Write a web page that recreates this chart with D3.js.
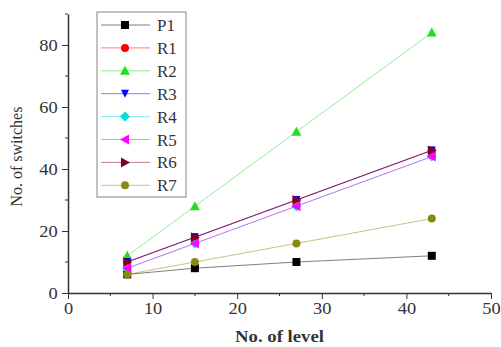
<!DOCTYPE html>
<html>
<head>
<meta charset="utf-8">
<script src="https://cdn.jsdelivr.net/npm/d3@7"></script>
<style>
  body { margin: 0; background: #fff; }
  svg text { font-family: "Liberation Serif", "DejaVu Serif", serif; }
</style>
</head>
<body>
<div id="main"></div>
<script>
var levels = [7, 15, 27, 43];
var seriesNames = ["P1", "R1", "R2", "R3", "R4", "R5", "R6", "R7"];
var P1 = [6, 8, 10, 12];
var R1 = [10, 18, 30, 46];
var R2 = [12, 28, 52, 84];
var R3 = [10, 18, 30, 46];
var R4 = [8, 16, 28, 44];
var R5 = [8, 16, 28, 44];
var R6 = [10, 18, 30, 46];
var R7 = [6, 10, 16, 24];
var seriesValues = [P1, R1, R2, R3, R4, R5, R6, R7];
var colors = ["#000000", "#ff0000", "#22dd22", "#0000ff", "#00e0e0", "#ff00ff", "#800020", "#8a8a10"];
var symbols = ["square", "circle", "triangle", "down", "diamond", "left", "right", "circle"];
var xTicks = [0, 10, 20, 30, 40, 50];
var yTicks = [0, 20, 40, 60, 80];

var width = 501, height = 347;
var svg = d3.select("#main").append("svg")
  .attr("width", width).attr("height", height);

var x = d3.scaleLinear().domain([0, 50]).range([68, 491]);
var y = d3.scaleLinear().domain([0, 90]).range([293, 14]);

// minor ticks
var g = svg.append("g");
d3.range(5, 50, 10).forEach(function (v) {
  g.append("line").attr("x1", x(v)).attr("x2", x(v))
    .attr("y1", y(0)).attr("y2", y(0) + 3).attr("stroke", "#333");
});
d3.range(10, 100, 20).forEach(function (v) {
  g.append("line").attr("y1", y(v)).attr("y2", y(v))
    .attr("x1", x(0)).attr("x2", x(0) - 3).attr("stroke", "#333");
});

var xAxis = svg.append("g").attr("transform", "translate(0," + y(0) + ")")
  .call(d3.axisBottom(x).tickValues(xTicks).tickSize(6).tickSizeOuter(0).tickPadding(4));
var yAxis = svg.append("g").attr("transform", "translate(" + x(0) + ",0)")
  .call(d3.axisLeft(y).tickValues(yTicks).tickSize(6).tickSizeOuter(0).tickPadding(3));
[xAxis, yAxis].forEach(function (a) {
  a.selectAll("path").attr("stroke", "#333").attr("stroke-width", 1.5);
  a.selectAll("line").attr("stroke", "#333");
  a.selectAll("text").attr("fill", "#333").style("font-size", "16px")
    .style("font-family", "Liberation Serif").attr("transform", "scale(1.15,1)");
});

svg.append("text").text("No. of level")
  .attr("transform", "translate(" + ((x(0) + x(50)) / 2) + ",342) scale(1.17,1)")
  .attr("text-anchor", "middle").style("font-size", "16px")
  .style("font-weight", "bold").attr("fill", "#333");
svg.append("text").text("No. of switches")
  .attr("transform", "translate(22," + y(44) + ") rotate(-90)")
  .attr("text-anchor", "middle").style("font-size", "16px").attr("fill", "#333");

function marker(sel, sym, cx, cy, color) {
  var s = 4;
  if (sym == "square") {
    sel.append("rect").attr("x", cx - s).attr("y", cy - s)
      .attr("width", 2 * s).attr("height", 2 * s).attr("fill", color);
  } else if (sym == "circle") {
    sel.append("circle").attr("cx", cx).attr("cy", cy).attr("r", s).attr("fill", color);
  } else {
    var pts;
    if (sym == "triangle") pts = [[0, -s - 1], [s + 1, s], [-s - 1, s]];
    if (sym == "down") pts = [[0, s], [s, -s], [-s, -s]];
    if (sym == "left") pts = [[-s - 1, 0], [s, -s - 1], [s, s + 1]];
    if (sym == "right") pts = [[s + 1, 0], [-s, -s - 1], [-s, s + 1]];
    if (sym == "diamond") pts = [[0, -s - 1], [s + 1, 0], [0, s + 1], [-s - 1, 0]];
    sel.append("polygon").attr("fill", color)
      .attr("points", pts.map(function (p) { return (cx + p[0]) + "," + (cy + p[1]); }).join(" "));
  }
}

var line = d3.line().x(function (d, i) { return x(levels[i]); }).y(function (d) { return y(d); });
var plot = svg.append("g");
seriesValues.forEach(function (vals, k) {
  plot.append("path").datum(vals).attr("d", line)
    .attr("fill", "none").attr("stroke", colors[k]).attr("stroke-width", 1).attr("opacity", 0.5);
  vals.forEach(function (v, i) {
    marker(plot, symbols[k], x(levels[i]), y(v), colors[k]);
  });
});

// legend
var leg = svg.append("g");
leg.append("rect").attr("x", 97).attr("y", 12).attr("width", 89).attr("height", 185)
  .attr("fill", "#fff").attr("stroke", "#999").attr("stroke-width", 1.2);
seriesNames.forEach(function (name, k) {
  var ly = 25 + k * 22.9;
  leg.append("line").attr("x1", 101).attr("x2", 150).attr("y1", ly).attr("y2", ly)
    .attr("stroke", colors[k]).attr("opacity", 0.5);
  marker(leg, symbols[k], 125, ly, colors[k]);
  leg.append("text").text(name).attr("x", 157).attr("y", ly + 6)
    .style("font-size", "17px").attr("fill", "#333");
});
</script>
</body>
</html>
